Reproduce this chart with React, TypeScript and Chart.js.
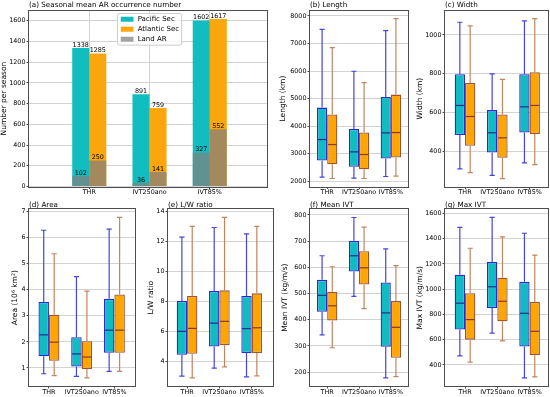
import React, { useEffect, useRef } from "react";
import { Chart, registerables } from "chart.js";

Chart.register(...registerables);

// ---------------- data ----------------
const categories = ["THR", "IVT250ano", "IVT85%"];
const seriesNames = ["Pacific Sec", "Atlantic Sec", "Land AR"];

// (a) seasonal mean AR occurrence number
const pacificCount = [1338, 891, 1602];
const atlanticCount = [1285, 759, 1617];
const pacificLandCount = [102, 36, 327];
const atlanticLandCount = [250, 141, 552];
const countTicks = [0, 200, 400, 600, 800, 1000, 1200, 1400, 1600];

// box statistics per category: [lower whisker, Q1, median, Q3, upper whisker]
const lengthPacific = [
  [2145, 2750, 3512, 4673, 7516],
  [2110, 2520, 3065, 3899, 5992],
  [2170, 2823, 3754, 5060, 7468],
];
const lengthAtlantic = [
  [2097, 2617, 3331, 4420, 6851],
  [2097, 2436, 2968, 3766, 5581],
  [2182, 2859, 3766, 5145, 7903],
];
const lengthTicks = [2000, 3000, 4000, 5000, 6000, 7000, 8000];

const widthPacific = [
  [309, 483, 636, 797, 1065],
  [275, 393, 495, 612, 799],
  [340, 496, 629, 797, 1072],
];
const widthAtlantic = [
  [290, 428, 579, 752, 1046],
  [259, 366, 469, 589, 770],
  [331, 489, 636, 807, 1084],
];
const widthTicks = [400, 600, 800, 1000];

const areaPacific = [
  [0.78, 1.45, 2.27, 3.53, 6.28],
  [0.68, 1.06, 1.54, 2.18, 4.5],
  [0.87, 1.58, 2.45, 3.65, 6.32],
];
const areaAtlantic = [
  [0.71, 1.28, 1.99, 3.04, 5.38],
  [0.62, 0.96, 1.42, 2.03, 3.95],
  [0.87, 1.58, 2.45, 3.82, 6.77],
];
const areaTicks = [1, 2, 3, 4, 5, 6, 7];

const ratioPacific = [
  [3.0, 4.42, 5.99, 8.02, 12.28],
  [3.53, 4.98, 6.54, 8.69, 12.93],
  [2.95, 4.54, 6.17, 8.35, 12.5],
];
const ratioAtlantic = [
  [2.88, 4.49, 6.19, 8.35, 13.0],
  [3.62, 5.07, 6.66, 8.73, 13.6],
  [3.02, 4.54, 6.23, 8.53, 13.0],
];
const ratioTicks = [4, 6, 8, 10, 12, 14];

const meanIvtPacific = [
  [342, 430, 493, 552, 644],
  [489, 584, 644, 701, 790],
  [178, 297, 426, 542, 670],
];
const meanIvtAtlantic = [
  [293, 397, 453, 507, 602],
  [442, 534, 598, 661, 753],
  [183, 255, 371, 471, 606],
];
const meanIvtTicks = [200, 300, 400, 500, 600, 700, 800];

const maxIvtPacific = [
  [472, 681, 889, 1114, 1489],
  [652, 851, 1019, 1215, 1568],
  [297, 546, 809, 1058, 1443],
];
const maxIvtAtlantic = [
  [422, 600, 759, 968, 1324],
  [591, 745, 904, 1090, 1414],
  [305, 477, 666, 899, 1269],
];
const maxIvtTicks = [400, 600, 800, 1000, 1200, 1400, 1600];

// ---------------- styles ----------------
const FONT = "DejaVu Sans";
Chart.defaults.font.family = FONT;
Chart.defaults.color = "#000";

const PAC_BAR = "#12bdbf";
const ATL_BAR = "#fba60a";
const LAND_BAR = "rgba(128,128,128,0.72)";
const PAC_BOX = "#10bcc2";
const ATL_BOX = "#ffa500";
const PAC_EDGE = "#2a2ad0";
const ATL_EDGE = "#9b5530";
const PAC_WHISK = "#4646d8";
const ATL_WHISK = "#c08562";
const PAC_MED = "#1e2d8c";
const ATL_MED = "#8b3a1e";
const GRID = "#d3d3d3";
const SPINE = "#4d4d4d";
const TICK_FONT = 6.4;
const TITLE_FONT = 7.2;
const YLABEL_FONT = 7.5;

type Rect = { x: number; y: number; w: number; h: number };

const framePlugin = {
  id: "frame",
  afterDraw(chart: any) {
    const { ctx, chartArea: a } = chart;
    ctx.save();
    ctx.strokeStyle = SPINE;
    ctx.lineWidth = 1;
    const l = Math.round(a.left) - 0.5;
    const t = Math.round(a.top) - 0.5;
    const r = Math.round(a.right) + 0.5;
    const b = Math.round(a.bottom) + 0.5;
    ctx.strokeRect(l, t, r - l, b - t);
    ctx.restore();
  },
};

function xScale(min: number, max: number, gridOn: boolean, axisH: number) {
  return {
    type: "linear",
    min,
    max,
    offset: false,
    z: 1,
    afterBuildTicks: (axis: any) => {
      axis.ticks = categories.map((_, i) => ({ value: i }));
    },
    afterFit: (axis: any) => {
      axis.height = axisH;
      axis.paddingLeft = 0;
      axis.paddingRight = 0;
    },
    ticks: {
      autoSkip: false,
      maxRotation: 0,
      minRotation: 0,
      padding: 0,
      font: { size: TICK_FONT },
      color: "#000",
      callback: (v: any) => categories[v] ?? "",
    },
    grid: {
      display: true,
      drawOnChartArea: gridOn,
      offset: false,
      color: GRID,
      lineWidth: 1,
      tickLength: 2.5,
      tickColor: SPINE,
    },
    border: { display: false },
  };
}

function yScale(min: number, max: number, ticks: number[], axisW: number, label: string, titlePad: number) {
  return {
    type: "linear",
    min,
    max,
    beginAtZero: false,
    stacked: false,
    z: 1,
    afterBuildTicks: (axis: any) => {
      axis.ticks = ticks.map((v) => ({ value: v }));
    },
    afterFit: (axis: any) => {
      axis.width = axisW;
      axis.paddingTop = 0;
      axis.paddingBottom = 0;
    },
    ticks: {
      padding: 1,
      font: { size: TICK_FONT },
      color: "#000",
      callback: (v: any) => String(v),
    },
    grid: { color: GRID, lineWidth: 1, tickLength: 2.5, tickColor: SPINE },
    border: { display: false },
    title: {
      display: true,
      text: label,
      font: { size: YLABEL_FONT },
      color: "#000",
      padding: { top: titlePad, bottom: 0 },
    },
  };
}

function titleOpts(text: string, top: number, bottom: number) {
  return {
    display: true,
    text,
    align: "start",
    fullSize: false,
    color: "#000",
    font: { size: TITLE_FONT, weight: "normal", lineHeight: 1.2 },
    padding: { top, bottom },
  };
}

// ---------------- panel (a) ----------------
const countValues = [pacificCount, atlanticCount, pacificLandCount, atlanticLandCount];

const barLabelPlugin = {
  id: "barLabels",
  afterDraw(chart: any) {
    const { ctx } = chart;
    ctx.save();
    ctx.font = `6.4px ${FONT}`;
    ctx.fillStyle = "#000";
    ctx.textAlign = "center";
    ctx.textBaseline = "alphabetic";
    countValues.forEach((vals, di) => {
      const meta = chart.getDatasetMeta(di);
      meta.data.forEach((el: any, i: number) => {
        ctx.fillText(String(vals[i]), el.x, el.y - 1.2);
      });
    });
    ctx.restore();
  },
};

const innerLegendPlugin = {
  id: "innerLegend",
  afterDraw(chart: any) {
    const { ctx, chartArea: a } = chart;
    const items = [0, 1, 2].map((i) => chart.data.datasets[i]);
    ctx.save();
    ctx.font = `7px ${FONT}`;
    const textW = Math.max(...items.map((d: any) => ctx.measureText(d.label).width));
    const padL = 3.4, patchW = 12.7, patchH = 5, gap = 4.2, padR = 2.5, rowH = 10, padT = 5.8;
    const w = padL + patchW + gap + textW + padR;
    const h = 31.7;
    const left = (a.left + a.right) / 2 - w / 2 + 1.5;
    const top = a.top + 2.8;
    ctx.fillStyle = "rgba(255,255,255,0.8)";
    ctx.strokeStyle = "#cccccc";
    ctx.lineWidth = 1;
    ctx.beginPath();
    (ctx as any).roundRect(left, top, w, h, 2);
    ctx.fill();
    ctx.stroke();
    items.forEach((d: any, i: number) => {
      const cy = top + padT + i * rowH;
      ctx.fillStyle = d.backgroundColor;
      ctx.fillRect(left + padL, cy - patchH / 2, patchW, patchH);
      ctx.fillStyle = "#000";
      ctx.textAlign = "left";
      ctx.textBaseline = "middle";
      ctx.fillText(d.label, left + padL + patchW + gap, cy);
    });
    ctx.restore();
  },
};

function buildCountChart(canvas: HTMLCanvasElement) {
  const pts = (vals: number[]) => vals.map((v, i) => ({ x: i, y: v }));
  return new Chart(canvas, {
    type: "bar",
    data: {
      datasets: [
        { label: seriesNames[0], stack: "P", order: 2, data: pts(pacificCount), backgroundColor: PAC_BAR },
        { label: seriesNames[1], stack: "A", order: 2, data: pts(atlanticCount), backgroundColor: ATL_BAR },
        { label: seriesNames[2], stack: "P", order: 1, data: pts(pacificLandCount), backgroundColor: LAND_BAR },
        { label: seriesNames[2], stack: "A", order: 1, data: pts(atlanticLandCount), backgroundColor: LAND_BAR },
      ],
    } as any,
    options: {
      responsive: false,
      animation: false,
      devicePixelRatio: 1,
      layout: { padding: { left: 0, right: 8, top: 0, bottom: 0 } },
      datasets: { bar: { categoryPercentage: 0.565, barPercentage: 1, borderWidth: 0 } },
      plugins: {
        legend: { display: false },
        tooltip: { enabled: false },
        title: titleOpts("(a) Seasonal mean AR occurrence number", 1, 1),
      },
      scales: {
        x: xScale(-1, 2.95, true, 10.5),
        y: yScale(0, 1698, countTicks, 29, "Number per season", 0),
      },
    } as any,
    plugins: [framePlugin, barLabelPlugin, innerLegendPlugin] as any,
  });
}

// ---------------- box panels ----------------
type BoxPanel = {
  id: string;
  title: string;
  yLabel: string;
  pac: number[][];
  atl: number[][];
  yMin: number;
  yMax: number;
  ticks: number[];
  xMin: number;
  xMax: number;
  rect: Rect;
  axisW: number;
  padRight: number;
  titleTop: number;
  titleBottom: number;
  yTitlePad: number;
  xAxisH: number;
};

function whiskerPlugin(stats: number[][][]) {
  const styles = [
    { whisker: PAC_WHISK, median: PAC_MED },
    { whisker: ATL_WHISK, median: ATL_MED },
  ];
  return {
    id: "whiskers",
    afterDraw(chart: any) {
      const ctx = chart.ctx;
      const ys = chart.scales.y;
      stats.forEach((series, di) => {
        const meta = chart.getDatasetMeta(di);
        const st = styles[di];
        series.forEach((s, i) => {
          const el: any = meta.data[i];
          if (!el) return;
          const x = el.x;
          const w = el.width;
          const lo = ys.getPixelForValue(s[0]);
          const q1 = ys.getPixelForValue(s[1]);
          const med = ys.getPixelForValue(s[2]);
          const q3 = ys.getPixelForValue(s[3]);
          const hi = ys.getPixelForValue(s[4]);
          ctx.save();
          ctx.strokeStyle = st.whisker;
          ctx.lineWidth = 1.2;
          ctx.beginPath();
          ctx.moveTo(x, q3);
          ctx.lineTo(x, hi);
          ctx.moveTo(x, q1);
          ctx.lineTo(x, lo);
          ctx.moveTo(x - w / 4, hi);
          ctx.lineTo(x + w / 4, hi);
          ctx.moveTo(x - w / 4, lo);
          ctx.lineTo(x + w / 4, lo);
          ctx.stroke();
          ctx.strokeStyle = st.median;
          ctx.lineWidth = 1.2;
          ctx.beginPath();
          ctx.moveTo(x - w / 2 + 0.7, med);
          ctx.lineTo(x + w / 2 - 0.7, med);
          ctx.stroke();
          ctx.restore();
        });
      });
    },
  };
}

function buildBoxChart(p: BoxPanel) {
  return (canvas: HTMLCanvasElement) => {
    const boxes = (stats: number[][]) => stats.map((s, i) => ({ x: i, y: [s[1], s[3]] }));
    return new Chart(canvas, {
      type: "bar",
      data: {
        datasets: [
          {
            label: seriesNames[0],
            data: boxes(p.pac),
            backgroundColor: PAC_BOX,
            borderColor: PAC_EDGE,
            borderWidth: 1.3,
            borderSkipped: false,
          },
          {
            label: seriesNames[1],
            data: boxes(p.atl),
            backgroundColor: ATL_BOX,
            borderColor: ATL_EDGE,
            borderWidth: 1.3,
            borderSkipped: false,
          },
        ],
      } as any,
      options: {
        responsive: false,
        animation: false,
        devicePixelRatio: 1,
        layout: { padding: { left: 0, right: p.padRight, top: 0, bottom: 0 } },
        datasets: { bar: { categoryPercentage: 0.64, barPercentage: 1 } },
        plugins: {
          legend: { display: false },
          tooltip: { enabled: false },
          title: titleOpts(p.title, p.titleTop, p.titleBottom),
        },
        scales: {
          x: xScale(p.xMin, p.xMax, false, p.xAxisH),
          y: yScale(p.yMin, p.yMax, p.ticks, p.axisW, p.yLabel, p.yTitlePad),
        },
      } as any,
      plugins: [framePlugin, whiskerPlugin([p.pac, p.atl])] as any,
    });
  };
}

const topRow = { titleTop: 1, titleBottom: 1, xAxisH: 10.5 };
const bottomRow = { titleTop: 3.74, titleBottom: 0, xAxisH: 11 };

const boxPanels: BoxPanel[] = [
  {
    id: "b", title: "(b) Length", yLabel: "Length (km)", pac: lengthPacific, atl: lengthAtlantic,
    yMin: 1807, yMax: 8193, ticks: lengthTicks, xMin: -0.54, xMax: 2.54,
    rect: { x: 275, y: 0, w: 137, h: 197 }, axisW: 35, padRight: 4, yTitlePad: 3.5, ...topRow,
  },
  {
    id: "c", title: "(c) Width", yLabel: "Width (km)", pac: widthPacific, atl: widthAtlantic,
    yMin: 218, yMax: 1125, ticks: widthTicks, xMin: -0.62, xMax: 2.57,
    rect: { x: 412, y: 0, w: 138, h: 197 }, axisW: 33, padRight: 2, yTitlePad: 3.5, ...topRow,
  },
  {
    id: "d", title: "(d) Area", yLabel: "Area (10\u2076 km\u00b2)", pac: areaPacific, atl: areaAtlantic,
    yMin: 0.31, yMax: 7.08, ticks: areaTicks, xMin: -0.61, xMax: 2.63,
    rect: { x: 0, y: 197, w: 140, h: 200 }, axisW: 29, padRight: 5, yTitlePad: 10.5, ...bottomRow,
  },
  {
    id: "e", title: "(e) L/W ratio", yLabel: "L/W ratio", pac: ratioPacific, atl: ratioAtlantic,
    yMin: 2.34, yMax: 14.14, ticks: ratioTicks, xMin: -0.59, xMax: 2.66,
    rect: { x: 140, y: 197, w: 137, h: 200 }, axisW: 28, padRight: 4, yTitlePad: 6.5, ...bottomRow,
  },
  {
    id: "f", title: "(f) Mean IVT", yLabel: "Mean IVT (kg/m/s)", pac: meanIvtPacific, atl: meanIvtAtlantic,
    yMin: 147, yMax: 821, ticks: meanIvtTicks, xMin: -0.54, xMax: 2.54,
    rect: { x: 277, y: 197, w: 135, h: 200 }, axisW: 33, padRight: 4, yTitlePad: 4, ...bottomRow,
  },
  {
    id: "g", title: "(g) Max IVT", yLabel: "Max IVT (kg/m/s)", pac: maxIvtPacific, atl: maxIvtAtlantic,
    yMin: 233, yMax: 1632, ticks: maxIvtTicks, xMin: -0.62, xMax: 2.57,
    rect: { x: 412, y: 197, w: 138, h: 200 }, axisW: 33, padRight: 2, yTitlePad: 4, ...bottomRow,
  },
];

function ChartCanvas({ rect, build }: { rect: Rect; build: (c: HTMLCanvasElement) => Chart }) {
  const ref = useRef<HTMLCanvasElement>(null);
  useEffect(() => {
    const chart = build(ref.current as HTMLCanvasElement);
    return () => chart.destroy();
  }, []);
  return (
    <canvas
      ref={ref}
      width={rect.w}
      height={rect.h}
      style={{ position: "absolute", left: rect.x, top: rect.y, width: rect.w, height: rect.h }}
    />
  );
}

export default function App() {
  return (
    <div
      style={{
        position: "absolute",
        left: 0,
        top: 0,
        width: 550,
        height: 397,
        background: "#fff",
        overflow: "hidden",
      }}
    >
      <ChartCanvas rect={{ x: 0, y: 0, w: 275, h: 197 }} build={buildCountChart} />
      {boxPanels.map((p) => (
        <ChartCanvas key={p.id} rect={p.rect} build={buildBoxChart(p)} />
      ))}
    </div>
  );
}
